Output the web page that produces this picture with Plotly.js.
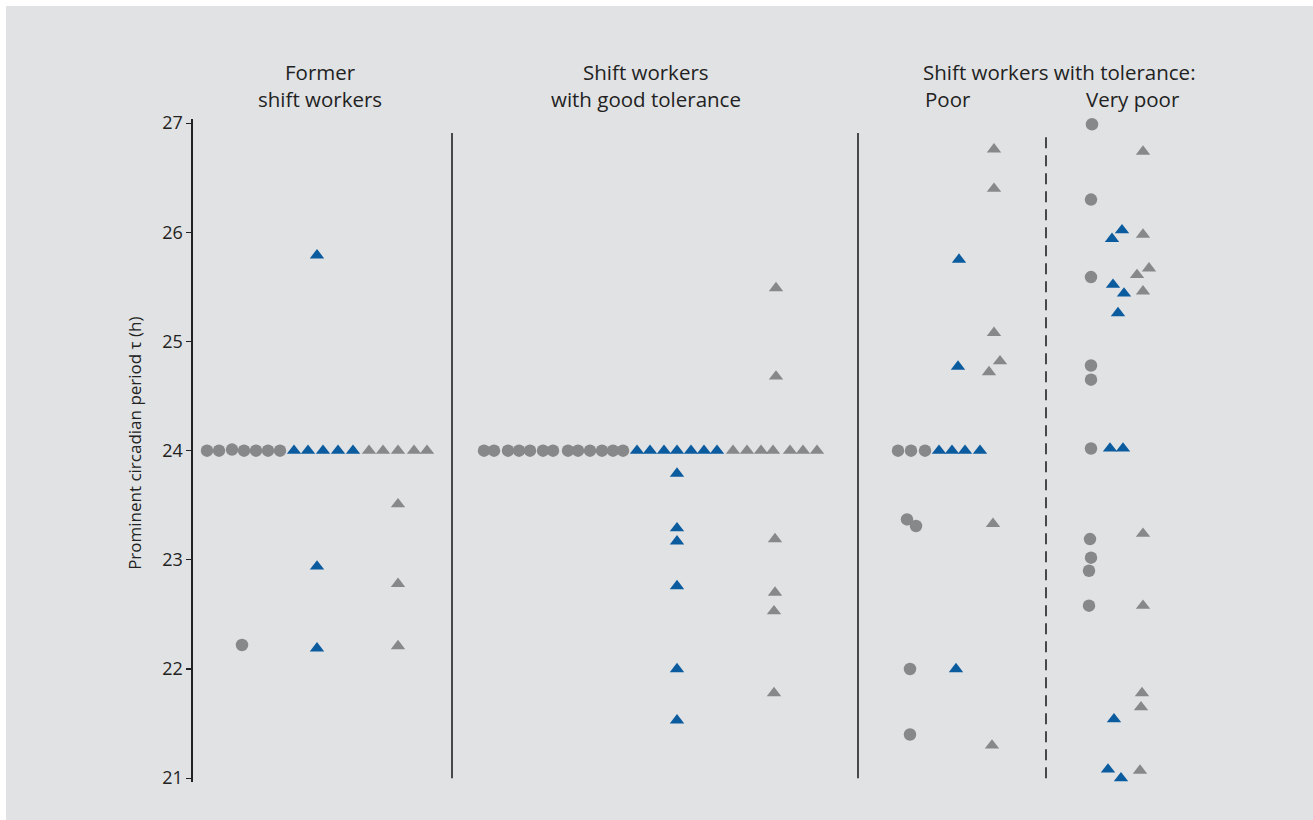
<!DOCTYPE html>
<html>
<head>
<meta charset="utf-8">
<script src="https://cdn.plot.ly/plotly-3.0.1.min.js"></script>
<style>html,body{margin:0;padding:0;background:#fff;}#chart{width:1313px;height:820px;}</style>
</head>
<body>
<div id="chart"></div>
<script>
// ---- Data: prominent circadian period (h) per subject, with column offsets (jitter) ----
// Panel 1: Former shift workers
var p1CircleY = [24.0, 24.0, 24.01, 24.0, 24.0, 24.0, 24.0, 22.22];
var p1CircleX = [14, 26, 39, 51, 63, 75, 87, 49];
var p1BlueY   = [24.0, 24.0, 24.0, 24.0, 24.0, 25.79, 22.94, 22.19];
var p1BlueX   = [101, 115, 130, 145, 160, 124, 124, 124];
var p1GrayY   = [24.0, 24.0, 24.0, 24.0, 24.0, 23.51, 22.78, 22.21];
var p1GrayX   = [176, 190, 205, 221, 234, 205, 205, 205];

// Panel 2: Shift workers with good tolerance
var p2CircleY = [24, 24, 24, 24, 24, 24, 24, 24, 24, 24, 24, 24, 24];
var p2CircleX = [291, 301, 315, 326, 337, 350, 360, 375, 385, 397, 409, 420, 430];
var p2BlueY   = [24, 24, 24, 24, 24, 24, 24, 23.79, 23.29, 23.17, 22.76, 22.0, 21.53];
var p2BlueX   = [444, 457, 471, 484, 498, 511, 524, 484, 484, 484, 484, 484, 484];
var p2GrayY   = [24, 24, 24, 24, 24, 24, 24, 25.49, 24.68, 23.19, 22.70, 22.53, 21.78];
var p2GrayX   = [540, 554, 568, 580, 597, 610, 624, 583, 583, 582, 582, 581, 581];

// Panel 3: Shift workers with poor tolerance
var p3CircleY = [24, 24, 24, 23.37, 23.31, 22.0, 21.40];
var p3CircleX = [705, 718, 732, 714, 723, 717, 717];
var p3BlueY   = [24, 24, 24, 24, 25.75, 24.77, 22.0];
var p3BlueX   = [746, 759, 772, 787, 766, 765, 763];
var p3GrayY   = [26.76, 26.40, 25.08, 24.82, 24.72, 23.33, 21.30];
var p3GrayX   = [801, 801, 801, 807, 796, 800, 799];

// Panel 4: Shift workers with very poor tolerance
var p4CircleY = [26.99, 26.30, 25.59, 24.78, 24.65, 24.02, 23.19, 23.02, 22.90, 22.58];
var p4CircleX = [899, 898, 898, 898, 898, 898, 897, 898, 896, 896];
var p4BlueY   = [25.94, 26.02, 25.52, 25.44, 25.26, 24.02, 24.02, 21.54, 21.08, 21.0];
var p4BlueX   = [919, 929, 920, 931, 925, 917, 930, 921, 915, 928];
var p4GrayY   = [26.74, 25.98, 25.61, 25.67, 25.46, 23.24, 22.58, 21.78, 21.65, 21.07];
var p4GrayX   = [950, 950, 944, 956, 950, 950, 950, 949, 948, 947];

var yTicks = [21, 22, 23, 24, 25, 26, 27];
var dividerX = [259, 665];
var dashedX = 853;

var GRAY = '#87888a';
var BLUE = '#0b5b9f';
var FONT = 'Open Sans, Noto Sans, sans-serif';

function circles(x, y) {
  return {x: x, y: y, type: 'scatter', mode: 'markers', cliponaxis: false, hoverinfo: 'y',
    marker: {symbol: 'circle', size: 12.5, color: GRAY, line: {width: 0}}};
}
function tris(x, y, c) {
  return {x: x, y: y, type: 'scatter', mode: 'markers', cliponaxis: false, hoverinfo: 'y',
    marker: {symbol: 'triangle-up', size: 12.5, color: c, line: {width: 0}}};
}

var data = [
  circles(p1CircleX, p1CircleY), tris(p1BlueX, p1BlueY, BLUE), tris(p1GrayX, p1GrayY, GRAY),
  circles(p2CircleX, p2CircleY), tris(p2BlueX, p2BlueY, BLUE), tris(p2GrayX, p2GrayY, GRAY),
  circles(p3CircleX, p3CircleY), tris(p3BlueX, p3BlueY, BLUE), tris(p3GrayX, p3GrayY, GRAY),
  circles(p4CircleX, p4CircleY), tris(p4BlueX, p4BlueY, BLUE), tris(p4GrayX, p4GrayY, GRAY)
];

var shapes = [
  {type: 'rect', xref: 'paper', yref: 'paper', x0: -0.187, x1: 1.13, y0: -0.07, y1: 1.1704,
   fillcolor: '#e1e2e4', line: {width: 0}, layer: 'below'}
];
dividerX.forEach(function (xv) {
  shapes.push({type: 'line', xref: 'x', yref: 'y', x0: xv, x1: xv, y0: 21.0, y1: 26.91,
    line: {color: '#222', width: 1.6}});
});
shapes.push({type: 'line', xref: 'x', yref: 'y', x0: dashedX, x1: dashedX, y0: 21.0, y1: 26.91,
  line: {color: '#222', width: 1.6, dash: '11px,7px'}});

function title(text, x, y) {
  return {text: text, xref: 'x', yref: 'paper', x: x, y: y, xanchor: 'center', yanchor: 'middle',
    showarrow: false, font: {family: FONT, size: 20.5, color: '#222'}};
}
var L1 = (782 - 72) / 663, L2 = (782 - 99) / 663;
var annotations = [
  title('Former', 127, L1), title('shift workers', 127, L2),
  title('Shift workers', 453, L1), title('with good tolerance', 453, L2),
  title('Shift workers with tolerance:', 866, L1), title('Poor', 755, L2), title('Very poor', 940, L2),
  {text: 'Prominent circadian period \u03c4 (h)', xref: 'paper', yref: 'paper', x: -0.058, y: 0.51,
   textangle: -90, xanchor: 'center', yanchor: 'middle', showarrow: false,
   font: {family: FONT, size: 17, color: '#222'}}
];

var layout = {
  width: 1313, height: 820,
  margin: {l: 193, r: 120, t: 119, b: 38},
  paper_bgcolor: '#ffffff', plot_bgcolor: 'rgba(0,0,0,0)',
  showlegend: false,
  xaxis: {range: [0, 1000], visible: false, fixedrange: true},
  yaxis: {range: [20.965, 27.038], tickvals: yTicks, ticktext: yTicks.map(String),
    showline: true, linecolor: '#222', linewidth: 1.6, ticks: 'outside', ticklen: 5,
    tickcolor: '#222', tickwidth: 1.2, showgrid: false, zeroline: false,
    tickfont: {family: FONT, size: 18, color: '#222'}},
  shapes: shapes,
  annotations: annotations
};

Plotly.newPlot('chart', data, layout, {displayModeBar: false, staticPlot: true});
</script>
</body>
</html>
